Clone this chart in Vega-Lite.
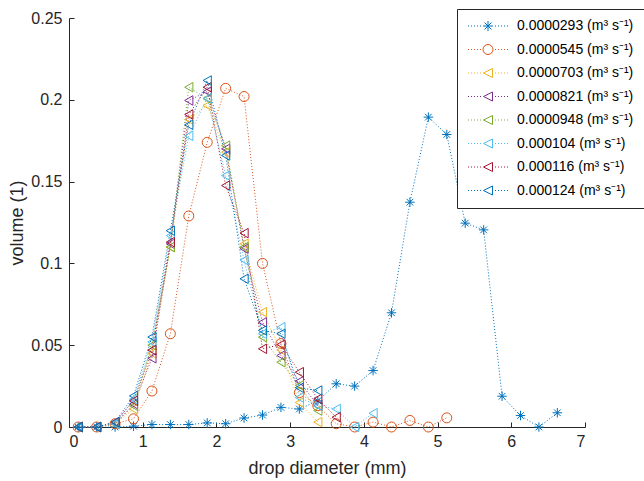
{
  "$schema": "https://vega.github.io/schema/vega-lite/v6.json",
  "width": 516,
  "height": 409,
  "autosize": {"type": "none"},
  "padding": {"left": 69, "top": 18, "right": 59, "bottom": 54},
  "background": "white",
  "config": {
    "view": {"stroke": null},
    "font": "Liberation Sans",
    "axis": {
      "domainColor": "#262626",
      "tickColor": "#262626",
      "labelColor": "#262626",
      "titleColor": "#262626",
      "labelFont": "Liberation Sans",
      "titleFont": "Liberation Sans",
      "labelFontSize": 16,
      "titleFontSize": 18,
      "titleFontWeight": "normal",
      "grid": false,
      "tickSize": -5,
      "domainWidth": 1,
      "tickWidth": 1
    },
    "legend": {
      "orient": "none",
      "legendX": 388,
      "legendY": -9,
      "strokeColor": "#262626",
      "fillColor": "white",
      "padding": 10,
      "symbolSize": 100,
      "symbolOffset": 14,
      "labelOffset": 22,
      "labelFontSize": 14,
      "labelColor": "#000000",
      "labelFont": "Liberation Sans",
      "rowPadding": 9.5,
      "symbolStrokeWidth": 1,
      "symbolOpacity": 1
    }
  },
  "data": {
    "values": [
      {"flow": "0.0000293 (m³ s⁻¹)", "d": 0.125, "v": 0},
      {"flow": "0.0000293 (m³ s⁻¹)", "d": 0.375, "v": 0},
      {"flow": "0.0000293 (m³ s⁻¹)", "d": 0.625, "v": 0},
      {"flow": "0.0000293 (m³ s⁻¹)", "d": 0.875, "v": 0.0005},
      {"flow": "0.0000293 (m³ s⁻¹)", "d": 1.125, "v": 0.0015},
      {"flow": "0.0000293 (m³ s⁻¹)", "d": 1.375, "v": 0.0015},
      {"flow": "0.0000293 (m³ s⁻¹)", "d": 1.625, "v": 0.0015},
      {"flow": "0.0000293 (m³ s⁻¹)", "d": 1.875, "v": 0.0025},
      {"flow": "0.0000293 (m³ s⁻¹)", "d": 2.125, "v": 0.002},
      {"flow": "0.0000293 (m³ s⁻¹)", "d": 2.375, "v": 0.0055},
      {"flow": "0.0000293 (m³ s⁻¹)", "d": 2.625, "v": 0.0073},
      {"flow": "0.0000293 (m³ s⁻¹)", "d": 2.875, "v": 0.012},
      {"flow": "0.0000293 (m³ s⁻¹)", "d": 3.125, "v": 0.011},
      {"flow": "0.0000293 (m³ s⁻¹)", "d": 3.375, "v": 0.016},
      {"flow": "0.0000293 (m³ s⁻¹)", "d": 3.625, "v": 0.0264},
      {"flow": "0.0000293 (m³ s⁻¹)", "d": 3.875, "v": 0.025},
      {"flow": "0.0000293 (m³ s⁻¹)", "d": 4.125, "v": 0.0345},
      {"flow": "0.0000293 (m³ s⁻¹)", "d": 4.375, "v": 0.0698},
      {"flow": "0.0000293 (m³ s⁻¹)", "d": 4.625, "v": 0.1374},
      {"flow": "0.0000293 (m³ s⁻¹)", "d": 4.875, "v": 0.1894},
      {"flow": "0.0000293 (m³ s⁻¹)", "d": 5.125, "v": 0.1788},
      {"flow": "0.0000293 (m³ s⁻¹)", "d": 5.375, "v": 0.1246},
      {"flow": "0.0000293 (m³ s⁻¹)", "d": 5.625, "v": 0.1205},
      {"flow": "0.0000293 (m³ s⁻¹)", "d": 5.875, "v": 0.0188},
      {"flow": "0.0000293 (m³ s⁻¹)", "d": 6.125, "v": 0.007},
      {"flow": "0.0000293 (m³ s⁻¹)", "d": 6.375, "v": 0},
      {"flow": "0.0000293 (m³ s⁻¹)", "d": 6.625, "v": 0.0087},

      {"flow": "0.0000545 (m³ s⁻¹)", "d": 0.125, "v": 0},
      {"flow": "0.0000545 (m³ s⁻¹)", "d": 0.375, "v": 0},
      {"flow": "0.0000545 (m³ s⁻¹)", "d": 0.625, "v": 0.002},
      {"flow": "0.0000545 (m³ s⁻¹)", "d": 0.875, "v": 0.005},
      {"flow": "0.0000545 (m³ s⁻¹)", "d": 1.125, "v": 0.022},
      {"flow": "0.0000545 (m³ s⁻¹)", "d": 1.375, "v": 0.057},
      {"flow": "0.0000545 (m³ s⁻¹)", "d": 1.625, "v": 0.129},
      {"flow": "0.0000545 (m³ s⁻¹)", "d": 1.875, "v": 0.174},
      {"flow": "0.0000545 (m³ s⁻¹)", "d": 2.125, "v": 0.207},
      {"flow": "0.0000545 (m³ s⁻¹)", "d": 2.375, "v": 0.202},
      {"flow": "0.0000545 (m³ s⁻¹)", "d": 2.625, "v": 0.1},
      {"flow": "0.0000545 (m³ s⁻¹)", "d": 2.875, "v": 0.051},
      {"flow": "0.0000545 (m³ s⁻¹)", "d": 3.125, "v": 0.021},
      {"flow": "0.0000545 (m³ s⁻¹)", "d": 3.375, "v": 0.013},
      {"flow": "0.0000545 (m³ s⁻¹)", "d": 3.625, "v": 0.002},
      {"flow": "0.0000545 (m³ s⁻¹)", "d": 3.875, "v": 0},
      {"flow": "0.0000545 (m³ s⁻¹)", "d": 4.125, "v": 0.003},
      {"flow": "0.0000545 (m³ s⁻¹)", "d": 4.375, "v": 0},
      {"flow": "0.0000545 (m³ s⁻¹)", "d": 4.625, "v": 0.004},
      {"flow": "0.0000545 (m³ s⁻¹)", "d": 4.875, "v": 0},
      {"flow": "0.0000545 (m³ s⁻¹)", "d": 5.125, "v": 0.0056},

      {"flow": "0.0000703 (m³ s⁻¹)", "d": 0.125, "v": 0},
      {"flow": "0.0000703 (m³ s⁻¹)", "d": 0.375, "v": 0},
      {"flow": "0.0000703 (m³ s⁻¹)", "d": 0.625, "v": 0.002},
      {"flow": "0.0000703 (m³ s⁻¹)", "d": 0.875, "v": 0.011},
      {"flow": "0.0000703 (m³ s⁻¹)", "d": 1.125, "v": 0.045},
      {"flow": "0.0000703 (m³ s⁻¹)", "d": 1.375, "v": 0.11},
      {"flow": "0.0000703 (m³ s⁻¹)", "d": 1.625, "v": 0.188},
      {"flow": "0.0000703 (m³ s⁻¹)", "d": 1.875, "v": 0.1965},
      {"flow": "0.0000703 (m³ s⁻¹)", "d": 2.125, "v": 0.168},
      {"flow": "0.0000703 (m³ s⁻¹)", "d": 2.375, "v": 0.112},
      {"flow": "0.0000703 (m³ s⁻¹)", "d": 2.625, "v": 0.0702},
      {"flow": "0.0000703 (m³ s⁻¹)", "d": 2.875, "v": 0.047},
      {"flow": "0.0000703 (m³ s⁻¹)", "d": 3.125, "v": 0.015},
      {"flow": "0.0000703 (m³ s⁻¹)", "d": 3.375, "v": 0.003},

      {"flow": "0.0000821 (m³ s⁻¹)", "d": 0.125, "v": 0},
      {"flow": "0.0000821 (m³ s⁻¹)", "d": 0.375, "v": 0},
      {"flow": "0.0000821 (m³ s⁻¹)", "d": 0.625, "v": 0.002},
      {"flow": "0.0000821 (m³ s⁻¹)", "d": 0.875, "v": 0.014},
      {"flow": "0.0000821 (m³ s⁻¹)", "d": 1.125, "v": 0.042},
      {"flow": "0.0000821 (m³ s⁻¹)", "d": 1.375, "v": 0.112},
      {"flow": "0.0000821 (m³ s⁻¹)", "d": 1.625, "v": 0.1996},
      {"flow": "0.0000821 (m³ s⁻¹)", "d": 1.875, "v": 0.205},
      {"flow": "0.0000821 (m³ s⁻¹)", "d": 2.125, "v": 0.17},
      {"flow": "0.0000821 (m³ s⁻¹)", "d": 2.375, "v": 0.109},
      {"flow": "0.0000821 (m³ s⁻¹)", "d": 2.625, "v": 0.064},
      {"flow": "0.0000821 (m³ s⁻¹)", "d": 2.875, "v": 0.0437},
      {"flow": "0.0000821 (m³ s⁻¹)", "d": 3.125, "v": 0.028},
      {"flow": "0.0000821 (m³ s⁻¹)", "d": 3.375, "v": 0.013},

      {"flow": "0.0000948 (m³ s⁻¹)", "d": 0.125, "v": 0},
      {"flow": "0.0000948 (m³ s⁻¹)", "d": 0.375, "v": 0},
      {"flow": "0.0000948 (m³ s⁻¹)", "d": 0.625, "v": 0.002},
      {"flow": "0.0000948 (m³ s⁻¹)", "d": 0.875, "v": 0.013},
      {"flow": "0.0000948 (m³ s⁻¹)", "d": 1.125, "v": 0.05},
      {"flow": "0.0000948 (m³ s⁻¹)", "d": 1.375, "v": 0.11},
      {"flow": "0.0000948 (m³ s⁻¹)", "d": 1.625, "v": 0.2077},
      {"flow": "0.0000948 (m³ s⁻¹)", "d": 1.875, "v": 0.2006},
      {"flow": "0.0000948 (m³ s⁻¹)", "d": 2.125, "v": 0.172},
      {"flow": "0.0000948 (m³ s⁻¹)", "d": 2.375, "v": 0.11},
      {"flow": "0.0000948 (m³ s⁻¹)", "d": 2.625, "v": 0.0549},
      {"flow": "0.0000948 (m³ s⁻¹)", "d": 2.875, "v": 0.0396},
      {"flow": "0.0000948 (m³ s⁻¹)", "d": 3.125, "v": 0.0254},
      {"flow": "0.0000948 (m³ s⁻¹)", "d": 3.375, "v": 0.01},

      {"flow": "0.000104 (m³ s⁻¹)", "d": 0.125, "v": 0},
      {"flow": "0.000104 (m³ s⁻¹)", "d": 0.375, "v": 0},
      {"flow": "0.000104 (m³ s⁻¹)", "d": 0.625, "v": 0.002},
      {"flow": "0.000104 (m³ s⁻¹)", "d": 0.875, "v": 0.017},
      {"flow": "0.000104 (m³ s⁻¹)", "d": 1.125, "v": 0.052},
      {"flow": "0.000104 (m³ s⁻¹)", "d": 1.375, "v": 0.117},
      {"flow": "0.000104 (m³ s⁻¹)", "d": 1.625, "v": 0.178},
      {"flow": "0.000104 (m³ s⁻¹)", "d": 1.875, "v": 0.201},
      {"flow": "0.000104 (m³ s⁻¹)", "d": 2.125, "v": 0.1537},
      {"flow": "0.000104 (m³ s⁻¹)", "d": 2.375, "v": 0.102},
      {"flow": "0.000104 (m³ s⁻¹)", "d": 2.625, "v": 0.057},
      {"flow": "0.000104 (m³ s⁻¹)", "d": 2.875, "v": 0.061},
      {"flow": "0.000104 (m³ s⁻¹)", "d": 3.125, "v": 0.018},
      {"flow": "0.000104 (m³ s⁻¹)", "d": 3.375, "v": 0.013},
      {"flow": "0.000104 (m³ s⁻¹)", "d": 3.625, "v": 0.011},
      {"flow": "0.000104 (m³ s⁻¹)", "d": 3.875, "v": 0},
      {"flow": "0.000104 (m³ s⁻¹)", "d": 4.125, "v": 0.0084},

      {"flow": "0.000116 (m³ s⁻¹)", "d": 0.125, "v": 0},
      {"flow": "0.000116 (m³ s⁻¹)", "d": 0.375, "v": 0},
      {"flow": "0.000116 (m³ s⁻¹)", "d": 0.625, "v": 0.003},
      {"flow": "0.000116 (m³ s⁻¹)", "d": 0.875, "v": 0.016},
      {"flow": "0.000116 (m³ s⁻¹)", "d": 1.125, "v": 0.047},
      {"flow": "0.000116 (m³ s⁻¹)", "d": 1.375, "v": 0.113},
      {"flow": "0.000116 (m³ s⁻¹)", "d": 1.625, "v": 0.191},
      {"flow": "0.000116 (m³ s⁻¹)", "d": 1.875, "v": 0.2077},
      {"flow": "0.000116 (m³ s⁻¹)", "d": 2.125, "v": 0.1476},
      {"flow": "0.000116 (m³ s⁻¹)", "d": 2.375, "v": 0.1185},
      {"flow": "0.000116 (m³ s⁻¹)", "d": 2.625, "v": 0.0478},
      {"flow": "0.000116 (m³ s⁻¹)", "d": 2.875, "v": 0.0504},
      {"flow": "0.000116 (m³ s⁻¹)", "d": 3.125, "v": 0.0335},
      {"flow": "0.000116 (m³ s⁻¹)", "d": 3.375, "v": 0.0172},
      {"flow": "0.000116 (m³ s⁻¹)", "d": 3.625, "v": 0.006},

      {"flow": "0.000124 (m³ s⁻¹)", "d": 0.125, "v": 0},
      {"flow": "0.000124 (m³ s⁻¹)", "d": 0.375, "v": 0},
      {"flow": "0.000124 (m³ s⁻¹)", "d": 0.625, "v": 0.003},
      {"flow": "0.000124 (m³ s⁻¹)", "d": 0.875, "v": 0.019},
      {"flow": "0.000124 (m³ s⁻¹)", "d": 1.125, "v": 0.055},
      {"flow": "0.000124 (m³ s⁻¹)", "d": 1.375, "v": 0.12},
      {"flow": "0.000124 (m³ s⁻¹)", "d": 1.625, "v": 0.1847},
      {"flow": "0.000124 (m³ s⁻¹)", "d": 1.875, "v": 0.2118},
      {"flow": "0.000124 (m³ s⁻¹)", "d": 2.125, "v": 0.166},
      {"flow": "0.000124 (m³ s⁻¹)", "d": 2.375, "v": 0.0906},
      {"flow": "0.000124 (m³ s⁻¹)", "d": 2.625, "v": 0.059},
      {"flow": "0.000124 (m³ s⁻¹)", "d": 2.875, "v": 0.057},
      {"flow": "0.000124 (m³ s⁻¹)", "d": 3.125, "v": 0.024},
      {"flow": "0.000124 (m³ s⁻¹)", "d": 3.375, "v": 0.0223}
    ]
  },
  "encoding": {
    "x": {
      "field": "d",
      "type": "quantitative",
      "title": "drop diameter (mm)",
      "scale": {"domain": [0, 7], "nice": false, "zero": false},
      "axis": {"values": [0, 1, 2, 3, 4, 5, 6, 7], "format": "d", "labelPadding": 11, "titlePadding": 10}
    },
    "y": {
      "field": "v",
      "type": "quantitative",
      "title": "volume (1)",
      "scale": {"domain": [0, 0.25], "nice": false},
      "axis": {"values": [0, 0.05, 0.1, 0.15, 0.2, 0.25], "format": ".2~f", "labelPadding": 12, "titlePadding": 4}
    },
    "color": {
      "field": "flow",
      "type": "nominal",
      "scale": {
        "domain": ["0.0000293 (m³ s⁻¹)", "0.0000545 (m³ s⁻¹)", "0.0000703 (m³ s⁻¹)", "0.0000821 (m³ s⁻¹)", "0.0000948 (m³ s⁻¹)", "0.000104 (m³ s⁻¹)", "0.000116 (m³ s⁻¹)", "0.000124 (m³ s⁻¹)"],
        "range": ["#0072BD", "#D95319", "#EDB120", "#7E2F8E", "#77AC30", "#4DBEEE", "#A2142F", "#0072BD"]
      },
      "legend": {"title": null}
    }
  },
  "layer": [
    {
      "mark": {"type": "line", "strokeDash": [1, 2], "strokeWidth": 1},
      "encoding": {}
    },
    {
      "transform": [{"filter": "indexof(datum.flow, '0.0000293') === 0"}],
      "mark": {"type": "point", "filled": false, "strokeWidth": 1, "size": 90, "opacity": 1, "shape": "M-1,0L1,0M0,-1L0,1M-0.7,-0.7L0.7,0.7M-0.7,0.7L0.7,-0.7"},
      "encoding": {}
    },
    {
      "transform": [{"filter": "indexof(datum.flow, '0.0000545') === 0"}],
      "mark": {"type": "point", "filled": false, "strokeWidth": 1, "size": 100, "opacity": 1, "shape": "circle"},
      "encoding": {}
    },
    {
      "transform": [{"filter": "indexof(datum.flow, '0.0000293') !== 0 && indexof(datum.flow, '0.0000545') !== 0"}],
      "mark": {"type": "point", "filled": false, "strokeWidth": 1, "size": 90, "opacity": 1, "shape": "triangle-left"},
      "encoding": {}
    },
    {
      "mark": {"type": "point", "filled": false, "strokeWidth": 1, "opacity": 0},
      "encoding": {
        "shape": {
          "field": "flow",
          "type": "nominal",
          "scale": {
            "domain": ["0.0000293 (m³ s⁻¹)", "0.0000545 (m³ s⁻¹)", "0.0000703 (m³ s⁻¹)", "0.0000821 (m³ s⁻¹)", "0.0000948 (m³ s⁻¹)", "0.000104 (m³ s⁻¹)", "0.000116 (m³ s⁻¹)", "0.000124 (m³ s⁻¹)"],
            "range": [
              "M-4,0h0.2M-3.4,0h0.2M-2.8,0h0.2M-2.2,0h0.2M-1.6,0h0.2M1.4,0h0.2M2,0h0.2M2.6,0h0.2M3.2,0h0.2M3.8,0h0.2M-1,0L1,0M0,-1L0,1M-0.7,-0.7L0.7,0.7M-0.7,0.7L0.7,-0.7",
              "M-4,0h0.2M-3.4,0h0.2M-2.8,0h0.2M-2.2,0h0.2M-1.6,0h0.2M1.4,0h0.2M2,0h0.2M2.6,0h0.2M3.2,0h0.2M3.8,0h0.2M1,0A1,1,0,1,1,-1,0A1,1,0,1,1,1,0",
              "M-4,0h0.2M-3.4,0h0.2M-2.8,0h0.2M-2.2,0h0.2M-1.6,0h0.2M1.4,0h0.2M2,0h0.2M2.6,0h0.2M3.2,0h0.2M3.8,0h0.2M-0.9,0L0.9,-0.9L0.9,0.9Z",
              "M-4,0h0.2M-3.4,0h0.2M-2.8,0h0.2M-2.2,0h0.2M-1.6,0h0.2M1.4,0h0.2M2,0h0.2M2.6,0h0.2M3.2,0h0.2M3.8,0h0.2M-0.9,0L0.9,-0.9L0.9,0.9Z",
              "M-4,0h0.2M-3.4,0h0.2M-2.8,0h0.2M-2.2,0h0.2M-1.6,0h0.2M1.4,0h0.2M2,0h0.2M2.6,0h0.2M3.2,0h0.2M3.8,0h0.2M-0.9,0L0.9,-0.9L0.9,0.9Z",
              "M-4,0h0.2M-3.4,0h0.2M-2.8,0h0.2M-2.2,0h0.2M-1.6,0h0.2M1.4,0h0.2M2,0h0.2M2.6,0h0.2M3.2,0h0.2M3.8,0h0.2M-0.9,0L0.9,-0.9L0.9,0.9Z",
              "M-4,0h0.2M-3.4,0h0.2M-2.8,0h0.2M-2.2,0h0.2M-1.6,0h0.2M1.4,0h0.2M2,0h0.2M2.6,0h0.2M3.2,0h0.2M3.8,0h0.2M-0.9,0L0.9,-0.9L0.9,0.9Z",
              "M-4,0h0.2M-3.4,0h0.2M-2.8,0h0.2M-2.2,0h0.2M-1.6,0h0.2M1.4,0h0.2M2,0h0.2M2.6,0h0.2M3.2,0h0.2M3.8,0h0.2M-0.9,0L0.9,-0.9L0.9,0.9Z"
            ]
          },
          "legend": {"title": null}
        }
      }
    }
  ]
}
